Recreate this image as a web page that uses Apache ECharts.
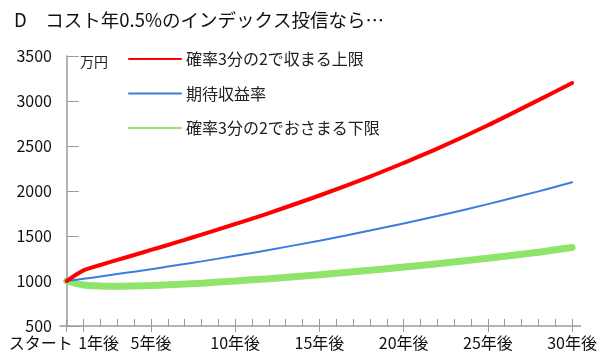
<!DOCTYPE html>
<html><head><meta charset="utf-8">
<script src="https://cdn.jsdelivr.net/npm/echarts@6/dist/echarts.min.js"></script>
<style>html,body{margin:0;padding:0;background:#fff}#c{width:600px;height:360px}</style>
</head><body><div id="c"></div>
<script>
const titleText = 'D　コスト年0.5%のインデックス投信なら…';
const unitText = '万円';
const seriesNames = ['確率3分の2で収まる上限', '期待収益率', '確率3分の2でおさまる下限'];
const years = [0, 1, 2, 3, 4, 5, 6, 7, 8, 10, 12, 15, 18, 20, 22, 25, 28, 30];
const upper = [1000, 1118, 1178, 1234, 1289, 1345, 1400, 1457, 1515, 1633, 1755, 1950, 2160, 2312, 2470, 2730, 3010, 3200];
const expected = [1000, 1025, 1050, 1077, 1104, 1131, 1160, 1189, 1218, 1280, 1345, 1448, 1560, 1639, 1722, 1854, 1996, 2098];
const lower = [1000, 955, 945, 942, 945, 950, 957, 966, 976, 1000, 1026, 1070, 1120, 1155, 1192, 1252, 1320, 1372];
const tickYears = [0,1,2,3,4,5,6,7,8,9,10,11,12,13,14,15,16,17,18,19,20,21,22,23,24,25,26,27,28,29,30];
const labelYears = [0, 1, 5, 10, 15, 20, 25, 30];
const labelTexts = ['スタート', '1年後', '5年後', '10年後', '15年後', '20年後', '25年後', '30年後'];

const FONT = '"Noto Sans CJK JP", sans-serif';
const pts = arr => years.map((y, i) => [y, arr[i]]);

const chart = echarts.init(document.getElementById('c'), null, {renderer: 'canvas'});
chart.setOption({
  animation: false,
  textStyle: {fontFamily: FONT},
  title: {text: titleText, left: 9, top: 6, textStyle: {fontSize: 18.5, fontWeight: 'normal', color: '#111', fontFamily: FONT}},
  graphic: [{type: 'text', left: 80, top: 55, style: {text: unitText, fontSize: 14, fill: '#222', fontFamily: FONT}}],
  legend: {
    orient: 'vertical', left: 123, top: 46, itemWidth: 52, itemHeight: 14, itemGap: 18.5,
    itemStyle: {color: 'transparent', borderColor: 'transparent', borderWidth: 0, opacity: 0},
    textStyle: {fontSize: 16, color: '#222', fontFamily: FONT},
    data: seriesNames
  },
  grid: {left: 60, right: 17, top: 56, bottom: 34},
  xAxis: [{
    type: 'value', min: -0.4, max: 30.5,
    axisLine: {lineStyle: {color: '#9a9a9a', width: 1.5}},
    axisTick: {show: true, inside: true, length: 7, customValues: tickYears, lineStyle: {color: '#9a9a9a', width: 1}},
    splitLine: {show: false},
    axisLabel: {
      customValues: labelYears, margin: 9, fontSize: 16, color: '#111', fontFamily: FONT,
      formatter: function (v) {
        const i = labelYears.indexOf(v);
        if (i === 0) return '{a|' + labelTexts[0] + '}';
        if (i === 1) return '{b|' + labelTexts[1] + '}';
        return i >= 0 ? labelTexts[i] : '';
      },
      rich: {
        a: {fontSize: 16, color: '#111', fontFamily: FONT, padding: [0, 52, 0, 0]},
        b: {fontSize: 16, color: '#111', fontFamily: FONT, padding: [0, 0, 0, 30]}
      }
    }
  }, {
    type: 'value', min: -0.4, max: 30.5, position: 'bottom',
    axisLine: {show: false},
    axisTick: {show: true, inside: false, length: 6, customValues: labelYears, lineStyle: {color: '#9a9a9a', width: 1}},
    axisLabel: {show: false}, splitLine: {show: false}
  }],
  yAxis: {
    type: 'value', min: 500, max: 3500, interval: 500,
    axisLine: {show: true, lineStyle: {color: '#9a9a9a', width: 1.5}},
    axisTick: {show: true, inside: true, length: 12, lineStyle: {color: '#9a9a9a', width: 1}},
    splitLine: {show: false},
    axisLabel: {fontSize: 16, color: '#111', margin: 8, fontFamily: FONT, formatter: v => String(v)}
  },
  series: [
    {name: seriesNames[2], type: 'line', data: pts(lower), smooth: 0.3, symbol: 'none', z: 2,
      lineStyle: {color: '#8fe46c', width: 7, cap: 'round'}, itemStyle: {color: '#8fe46c'}},
    {name: seriesNames[1], type: 'line', data: pts(expected), smooth: 0.3, symbol: 'none', z: 3,
      lineStyle: {color: '#3a7de0', width: 2, cap: 'round'}, itemStyle: {color: '#3a7de0'}},
    {name: seriesNames[0], type: 'line', data: pts(upper), smooth: 0.3, symbol: 'none', z: 4,
      lineStyle: {color: '#ff0000', width: 4, cap: 'round'}, itemStyle: {color: '#ff0000'}}
  ]
});
</script></body></html>
